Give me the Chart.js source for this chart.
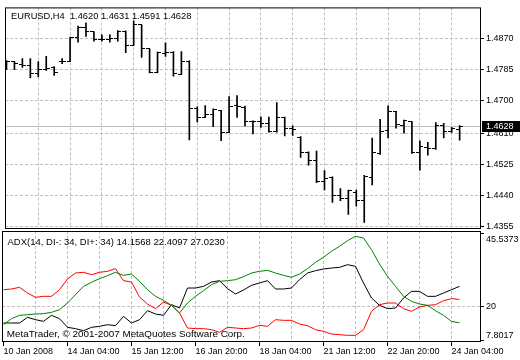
<!DOCTYPE html>
<html><head><meta charset="utf-8">
<script src="https://cdn.jsdelivr.net/npm/chart.js@4.4.0/dist/chart.umd.min.js"></script>
<style>
html,body{margin:0;padding:0;background:#fff;}
#wrap{position:relative;width:520px;height:360px;}
canvas{position:absolute;left:0;top:0;}
</style></head><body>
<div id="wrap"><canvas id="price" width="520" height="360"></canvas><canvas id="adx" width="520" height="360"></canvas></div>
<script>
// ---------- data ----------
const symbol = 'EURUSD,H4';
const xLabels = ['10 Jan 2008','14 Jan 04:00','15 Jan 12:00','16 Jan 20:00','18 Jan 04:00','21 Jan 12:00','22 Jan 20:00','24 Jan 04:00'];
const open  = [1.4806,1.4805,1.4798,1.4794,1.4774,1.4783,1.4789,1.4806,1.4806,1.4873,1.4900,1.4887,1.4866,1.4866,1.4869,1.4888,1.4850,1.4906,1.4841,1.4775,1.4829,1.4832,1.4770,1.4806,1.4677,1.4653,1.4661,1.4673,1.4613,1.4686,1.4681,1.4642,1.4642,1.4637,1.4615,1.4654,1.4623,1.4599,1.4557,1.4535,1.4478,1.4488,1.4439,1.4432,1.4448,1.4426,1.4488,1.4555,1.4617,1.4670,1.4630,1.4642,1.4557,1.4571,1.4568,1.4630,1.4615,1.4620];
const high  = [1.4809,1.4806,1.4814,1.4814,1.4806,1.4820,1.4792,1.4814,1.4873,1.4903,1.4912,1.4888,1.4879,1.4879,1.4891,1.4890,1.4917,1.4906,1.4841,1.4832,1.4857,1.4833,1.4833,1.4808,1.4682,1.4686,1.4677,1.4673,1.4710,1.4713,1.4684,1.4644,1.4655,1.4654,1.4694,1.4654,1.4630,1.4601,1.4559,1.4561,1.4508,1.4491,1.4459,1.4455,1.4455,1.4495,1.4597,1.4648,1.4685,1.4670,1.4646,1.4642,1.4589,1.4585,1.4639,1.4637,1.4626,1.4631];
const low   = [1.4784,1.4784,1.4790,1.4761,1.4764,1.4782,1.4768,1.4800,1.4806,1.4859,1.4875,1.4862,1.4862,1.4859,1.4862,1.4830,1.4850,1.4817,1.4775,1.4775,1.4820,1.4766,1.4770,1.4592,1.4641,1.4653,1.4628,1.4590,1.4613,1.4653,1.4630,1.4608,1.4626,1.4613,1.4613,1.4603,1.4604,1.4544,1.4523,1.4475,1.4455,1.4421,1.4426,1.4388,1.4411,1.4366,1.4469,1.4552,1.4597,1.4624,1.4610,1.4555,1.4509,1.4550,1.4566,1.4597,1.4612,1.4591];
const close = [1.4807,1.4800,1.4796,1.4774,1.4785,1.4788,1.4777,1.4806,1.4873,1.4900,1.4887,1.4866,1.4866,1.4869,1.4888,1.4850,1.4906,1.4841,1.4777,1.4830,1.4830,1.4773,1.4806,1.4677,1.4653,1.4660,1.4674,1.4613,1.4684,1.4684,1.4642,1.4641,1.4638,1.4615,1.4654,1.4623,1.4621,1.4557,1.4535,1.4478,1.4487,1.4439,1.4432,1.4453,1.4426,1.4491,1.4557,1.4615,1.4670,1.4633,1.4644,1.4557,1.4573,1.4568,1.4630,1.4615,1.4624,1.4628];
const priceTicks = [1.4870,1.4785,1.4700,1.4610,1.4525,1.4440,1.4355];

const adxName = 'ADX(14, DI-: 34, DI+: 34)';
const adxMain = [14.12,14.12,14.12,16.12,15.29,14.71,16.82,15.65,12.60,12.13,11.42,12.60,12.95,13.53,13.18,16.47,14.12,15.29,18.46,17.29,16.82,20.57,19.40,26.44,26.44,27.03,28.55,29.02,26.21,24.33,25.74,27.38,28.20,29.02,26.09,26.09,26.44,29.37,31.72,32.54,33.13,33.48,33.71,34.65,34.07,28.20,22.92,20.34,19.17,19.40,22.92,25.27,25.27,23.51,23.51,24.68,25.85,27.0230];
const diPlus  = [25.85,26.09,26.68,24.68,23.16,23.51,23.51,25.85,29.61,31.72,31.96,31.13,31.96,32.31,33.25,29.02,28.55,23.27,20.81,19.17,21.51,20.34,17.64,12.36,12.13,12.13,11.77,10.84,12.60,12.36,12.13,12.36,13.30,12.95,15.29,15.06,15.06,13.77,13.18,11.77,11.19,10.25,10.01,9.78,9.78,11.77,18.23,20.57,21.16,21.16,19.17,18.23,19.75,20.34,20.57,21.98,22.69,22.4097];
const diMinus = [13.53,15.65,16.82,17.05,17.29,17.41,17.88,18.81,21.16,24.09,27.03,28.44,29.73,30.78,31.96,30.90,31.37,28.79,25.85,23.51,22.10,20.34,17.64,21.16,23.51,25.50,27.61,28.79,29.02,29.37,30.43,31.72,32.31,32.66,31.72,30.90,30.20,31.37,33.25,35.48,37.23,39.35,41.11,43.10,44.63,44.04,39.93,34.89,30.55,27.03,23.51,21.75,20.81,20.34,18.46,16.82,14.71,14.1568];
const adxTicks = [45.5373, 20, 7.8017];
const copyright = 'MetaTrader, \u00A9 2001-2007 MetaQuotes Software Corp.';

// ---------- style / layout ----------
const FONT = "'Liberation Sans', Arial, sans-serif";
const GRID = '#c0c0c0';
const DASH = [3, 2];
const X_MIN = -0.1875, X_MAX = 59.6875;
const P_MIN = 1.434833, P_MAX = 1.495405;
const A_MIN = 7.434, A_MAX = 46.505;
const AXIS_W = 39;
Chart.defaults.font.family = FONT;

const idx = close.map((_, i) => i);
const n = close.length - 1;
const xTickIdx = [];
for (let v = 0; v < close.length; v += 4) xTickIdx.push(v);

function tickImage(side) {
  const c = document.createElement('canvas');
  c.width = 7; c.height = 1;
  const g = c.getContext('2d');
  g.fillStyle = '#000';
  g.fillRect(side === 'open' ? 0 : 3, 0, 4, 1);
  return c;
}

const framePlugin = {
  id: 'frame',
  beforeDatasetsDraw(chart) { chart.ctx.imageSmoothingEnabled = false; },
  afterDraw(chart) {
    const a = chart.chartArea, c = chart.ctx;
    c.save();
    c.strokeStyle = '#000'; c.lineWidth = 1; c.setLineDash([]);
    c.strokeRect(a.left + 0.5, a.top + 0.5, a.right - a.left - 1, a.bottom - a.top - 1);
    c.restore();
  }
};

const pricePlugin = {
  id: 'priceExtras',
  beforeDatasetsDraw(chart) {
    const a = chart.chartArea, c = chart.ctx;
    const py = Math.floor(chart.scales.y.getPixelForValue(close[n])) + 0.5;
    c.save();
    c.strokeStyle = GRID; c.lineWidth = 1; c.setLineDash([]);
    c.beginPath(); c.moveTo(a.left, py); c.lineTo(a.right, py); c.stroke();
    c.restore();
  },
  afterDraw(chart) {
    const a = chart.chartArea, c = chart.ctx;
    const py = Math.floor(chart.scales.y.getPixelForValue(close[n]));
    c.save();
    c.fillStyle = '#000';
    c.font = `9.3px ${FONT}`;
    c.textBaseline = 'middle';
    c.fillText(`${symbol}  ${[open[n], high[n], low[n], close[n]].map(v => v.toFixed(4)).join(' ')}`, a.left + 6, a.top + 9.5);
    c.fillRect(a.right + 1, py - 5, chart.width - a.right - 1, 11);
    c.fillStyle = '#fff';
    c.font = `9px ${FONT}`;
    c.fillText(close[n].toFixed(4), a.right + 5, py + 0.5);
    c.restore();
  }
};

const adxPlugin = {
  id: 'adxExtras',
  afterDatasetsDraw(chart) {
    const a = chart.chartArea, c = chart.ctx;
    c.save();
    c.fillStyle = '#000';
    c.textBaseline = 'middle';
    c.font = `9.5px ${FONT}`;
    c.fillText(`${adxName} ${[diMinus[n], diPlus[n], adxMain[n]].map(v => v.toFixed(4)).join(' ')}`, a.left + 5.5, a.top + 11.5);
    c.font = `9.9px ${FONT}`;
    c.fillText(copyright, a.left + 4.8, a.bottom - 7.5);
    c.restore();
  }
};

// ---------- price pane ----------
new Chart(document.getElementById('price'), {
  type: 'bar',
  data: {
    datasets: [
      { type: 'bar', data: idx.map(i => ({ x: i, y: [low[i], high[i]] })), backgroundColor: '#000',
        barThickness: 1, borderWidth: 0, borderSkipped: false, grouped: false },
      { type: 'scatter', data: idx.map(i => ({ x: i, y: open[i] })), pointStyle: tickImage('open'), pointRadius: 2 },
      { type: 'scatter', data: idx.map(i => ({ x: i, y: close[i] })), pointStyle: tickImage('close'), pointRadius: 2 }
    ]
  },
  options: {
    responsive: false, animation: false, devicePixelRatio: 1,
    layout: { padding: { left: 2, top: 2, right: 0, bottom: 131 } },
    plugins: { legend: { display: false }, tooltip: { enabled: false } },
    scales: {
      x: {
        type: 'linear', min: X_MIN, max: X_MAX, offset: false,
        afterBuildTicks: s => { s.ticks = xTickIdx.map(v => ({ value: v })); },
        afterFit: s => { s.height = 0; },
        ticks: { display: false },
        grid: { offset: false, drawTicks: false, color: c => (c.tick && c.tick.value !== 0) ? GRID : 'transparent', lineWidth: 1 },
        border: { display: false, dash: DASH }
      },
      y: {
        position: 'right', min: P_MIN, max: P_MAX,
        afterBuildTicks: s => { s.ticks = priceTicks.map(v => ({ value: v })); },
        afterFit: s => { s.width = AXIS_W; },
        ticks: { autoSkip: false, callback: v => v.toFixed(4), color: '#000', font: { size: 9 }, padding: 2 },
        grid: { color: GRID, tickColor: '#000', tickLength: 3, tickBorderDash: [], lineWidth: 1 },
        border: { display: false, dash: DASH }
      }
    }
  },
  plugins: [framePlugin, pricePlugin]
});

// ---------- ADX pane ----------
const lineDs = (vals, color) => ({
  data: idx.map(i => ({ x: i, y: vals[i] })), borderColor: color, borderWidth: 1,
  pointRadius: 0, tension: 0, fill: false
});

new Chart(document.getElementById('adx'), {
  type: 'line',
  data: { datasets: [lineDs(diMinus, '#008000'), lineDs(diPlus, '#ff0000'), lineDs(adxMain, '#000000')] },
  options: {
    responsive: false, animation: false, devicePixelRatio: 1,
    layout: { padding: { left: 2, top: 231, right: 0, bottom: 0 } },
    plugins: { legend: { display: false }, tooltip: { enabled: false } },
    scales: {
      x: {
        type: 'linear', min: X_MIN, max: X_MAX, offset: false,
        afterBuildTicks: s => { s.ticks = xTickIdx.map(v => ({ value: v })); },
        afterFit: s => { s.height = 18; },
        ticks: { autoSkip: false, maxRotation: 0, minRotation: 0, align: 'start', padding: 0, color: '#000', font: { size: 9 },
          callback: v => (v % 8 === 0 ? xLabels[v / 8] : '') },
        grid: { offset: false, color: c => (c.tick && c.tick.value !== 0) ? GRID : 'transparent',
          tickColor: c => (c.tick && c.tick.value % 8 === 0) ? '#000' : 'transparent', tickLength: 4, tickBorderDash: [], lineWidth: 1 },
        border: { display: false, dash: DASH }
      },
      y: {
        position: 'right', min: A_MIN, max: A_MAX,
        afterBuildTicks: s => { s.ticks = adxTicks.map(v => ({ value: v })); },
        afterFit: s => { s.width = AXIS_W; },
        ticks: { autoSkip: false, color: '#000', font: { size: 9 }, padding: 2,
          callback: v => v === adxTicks[0] ? ['', v.toFixed(4)] : (v === adxTicks[2] ? [v.toFixed(4), ''] : String(v)) },
        grid: { color: c => (c.tick && c.tick.value === 20) ? GRID : 'transparent', tickColor: '#000', tickLength: 3, tickBorderDash: [], lineWidth: 1 },
        border: { display: false, dash: DASH }
      }
    }
  },
  plugins: [framePlugin, adxPlugin]
});
</script>
</body></html>
